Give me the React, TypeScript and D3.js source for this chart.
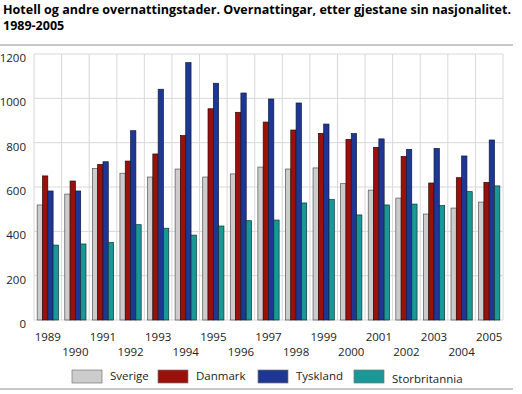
import React from "react";
import * as d3 from "d3";

const years = ["1989","1990","1991","1992","1993","1994","1995","1996","1997","1998","1999","2000","2001","2002","2003","2004","2005"];
const sverige = [519,568,684,662,645,681,645,659,690,681,686,615,586,550,478,505,532];
const danmark = [650,627,702,717,749,832,953,937,893,857,842,815,779,738,618,642,621];
const tyskland = [582,582,714,854,1041,1161,1068,1024,997,979,884,841,817,770,774,740,812];
const storbritannia = [338,343,349,430,414,383,424,448,451,528,543,474,519,523,516,579,605];
const seriesNames = ["Sverige","Danmark","Tyskland","Storbritannia"];
const yTicks = [0,200,400,600,800,1000,1200];

const colors = ["#cccccc","#9a100a","#1d3793","#1a9898"];
const strokes = ["#555555","#2a0a0a","#101a40","#0a3535"];

export default function App() {
  const W = 522, H = 394;
  const left = 34, right = 503, top = 54, bottom = 320;
  const data = [sverige, danmark, tyskland, storbritannia];
  const x = d3.scaleBand<string>().domain(years).range([left, right]).paddingInner(0.23).paddingOuter(0.115);
  const x0 = d3.scaleBand<string>().domain(years).range([left, right]);
  const xs = d3.scaleBand<number>().domain([0,1,2,3]).range([0, x.bandwidth()]);
  const y = d3.scaleLinear().domain([0,1200]).range([bottom, top]);
  const font = "'Open Sans', 'DejaVu Sans', sans-serif";
  return (
    <svg width={W} height={H} style={{position:"absolute", left:0, top:0, fontFamily: font}}>
      <rect width={W} height={H} fill="#fff" />
      <text x={3} y={14} fontSize={12.5} fontWeight="bold" fill="#000" textLength={508} lengthAdjust="spacingAndGlyphs">Hotell og andre overnattingstader. Overnattingar, etter gjestane sin nasjonalitet.</text>
      <text x={3} y={30} fontSize={12.5} fontWeight="bold" fill="#000">1989-2005</text>
      <rect x={0} y={44} width={513} height={2} fill="#c8c8c8" />
      {yTicks.map(t => (
        <g key={t}>
          <line x1={left} x2={right} y1={y(t)} y2={y(t)} stroke="#d8d8d8" strokeWidth={1} />
          <text x={26} y={y(t) + 8} fontSize={11.5} textAnchor="end" fill="#222">{t}</text>
        </g>
      ))}
      {years.map((yr) => (
        <line key={yr} x1={x0(yr)!} x2={x0(yr)!} y1={top} y2={bottom} stroke="#d8d8d8" />
      ))}
      <line x1={right} x2={right} y1={top} y2={bottom} stroke="#d8d8d8" />
      {years.map((yr, i) => (
        <g key={yr}>
          {data.map((s, j) => (
            <rect key={j} x={x(yr)! + xs(j)!} y={y(s[i])} width={xs.bandwidth()} height={bottom - y(s[i])}
              fill={colors[j]} stroke={strokes[j]} strokeWidth={0.7} />
          ))}
        </g>
      ))}
      {years.map((yr, i) => (
        <text key={yr} x={x0(yr)! + x0.bandwidth() / 2} y={i % 2 === 0 ? 341 : 356} fontSize={11.5} textAnchor="middle" fill="#222">{yr}</text>
      ))}
      {seriesNames.map((n, j) => {
        const bx = [72, 158, 258, 354][j];
        return (
          <g key={n}>
            <rect x={bx} y={370} width={30} height={13} fill={colors[j]} stroke="#777" strokeWidth={0.7} />
            <text x={bx + 38} y={j === 3 ? 383 : 380} fontSize={11.5} fill="#222">{n}</text>
          </g>
        );
      })}
      <rect x={0} y={388} width={513} height={2} fill="#c8c8c8" />
    </svg>
  );
}
